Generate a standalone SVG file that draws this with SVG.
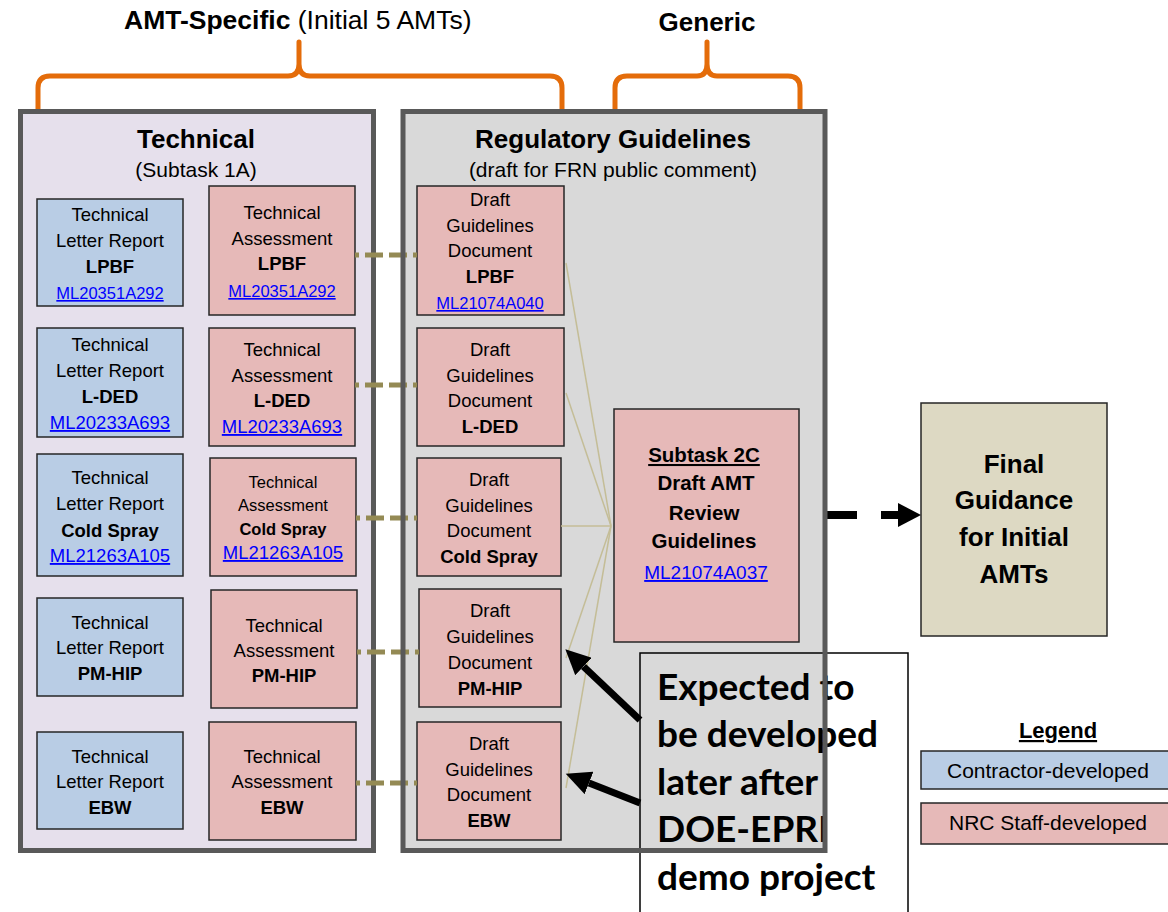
<svg xmlns="http://www.w3.org/2000/svg" width="1168" height="912" viewBox="0 0 1168 912">
<style>
text{font-family:"Liberation Sans",Arial,sans-serif;fill:#000;text-anchor:middle}
.b{font-weight:bold}
.t{font-size:18.5px}
.ts{font-size:16.5px}
.lk{fill:#0000ff;text-decoration:underline}
.title{font-size:26px;font-weight:bold}
.sub{font-size:21px}
.blue{fill:#b9cde5;stroke:#262626;stroke-width:1.5}
.pink{fill:#e6b9b8;stroke:#262626;stroke-width:1.5}
.brace{fill:none;stroke:#e46c0a;stroke-width:5;stroke-linecap:round;stroke-linejoin:round}
.link{stroke:#948a54;stroke-width:5;stroke-dasharray:18 6;stroke-dashoffset:14;fill:none}
.thin{stroke:#c4bd97;stroke-width:1.5;fill:none}
.border{fill:none;stroke:#595959;stroke-width:5}
.call{font-family:Lato,"Open Sans",sans-serif;font-weight:bold;font-size:37px;text-anchor:start}
</style>
<defs>
<marker id="bighead" markerUnits="userSpaceOnUse" markerWidth="24" markerHeight="24" refX="0" refY="12" orient="auto"><path d="M0,0 L23,12 L0,24 Z" fill="#000"/></marker>
<marker id="head" markerUnits="userSpaceOnUse" markerWidth="26" markerHeight="24" refX="0" refY="12" orient="auto"><path d="M0,0 L25,12 L0,24 Z" fill="#000"/></marker>
</defs>
<rect width="1168" height="912" fill="#fff"/>

<g id="header-amt">
<text x="124" y="29" style="font-size:26.5px;text-anchor:start"><tspan font-weight="bold">AMT-Specific</tspan> (Initial 5 AMTs)</text>
<path class="brace" d="M38,109 V88 Q38,76 50,76 H288 Q299,76 299,64 V42 M299,64 Q299,76 310,76 H550 Q562,76 562,88 V109"/>
</g>
<g id="header-generic">
<text x="707" y="31" class="title">Generic</text>
<path class="brace" d="M615,109 V88 Q615,76 627,76 H697 Q707,76 707,64 V42 M707,64 Q707,76 717,76 H788 Q800,76 800,88 V109"/>
</g>

<g id="technical-panel">
<rect x="20.5" y="111.5" width="353" height="739" fill="#e6e0ec" stroke="#595959" stroke-width="5"/>
<text x="196" y="148" class="title">Technical</text>
<text x="196" y="177" class="sub">(Subtask 1A)</text>
</g>

<g id="regulatory-panel">
<rect x="403" y="111.5" width="422" height="739" fill="#d9d9d9"/>
<text x="613" y="148" class="title">Regulatory Guidelines</text>
<text x="613" y="177" class="sub">(draft for FRN public comment)</text>
</g>

<g id="tlr-lpbf">
<rect class="blue" x="37" y="199" width="146" height="107"/>
<text x="110" y="221" class="t">Technical</text>
<text x="110" y="247" class="t">Letter Report</text>
<text x="110" y="273" class="t b">LPBF</text>
<text x="110" y="299" class="ts lk">ML20351A292</text>
</g>
<g id="tlr-lded">
<rect class="blue" x="37" y="328" width="146" height="109"/>
<text x="110" y="351" class="t">Technical</text>
<text x="110" y="377" class="t">Letter Report</text>
<text x="110" y="403" class="t b">L-DED</text>
<text x="110" y="429" class="t lk">ML20233A693</text>
</g>
<g id="tlr-cold">
<rect class="blue" x="37" y="454" width="146" height="122"/>
<text x="110" y="484" class="t">Technical</text>
<text x="110" y="510" class="t">Letter Report</text>
<text x="110" y="537" class="t b">Cold Spray</text>
<text x="110" y="562" class="t lk">ML21263A105</text>
</g>
<g id="tlr-pmhip">
<rect class="blue" x="37" y="598" width="146" height="98"/>
<text x="110" y="629" class="t">Technical</text>
<text x="110" y="654" class="t">Letter Report</text>
<text x="110" y="680" class="t b">PM-HIP</text>
</g>
<g id="tlr-ebw">
<rect class="blue" x="37" y="732" width="146" height="97"/>
<text x="110" y="763" class="t">Technical</text>
<text x="110" y="788" class="t">Letter Report</text>
<text x="110" y="814" class="t b">EBW</text>
</g>

<g id="ta-lpbf">
<rect class="pink" x="209" y="186" width="146" height="129"/>
<text x="282" y="219" class="t">Technical</text>
<text x="282" y="245" class="t">Assessment</text>
<text x="282" y="270" class="t b">LPBF</text>
<text x="282" y="297" class="ts lk">ML20351A292</text>
</g>
<g id="ta-lded">
<rect class="pink" x="209" y="328" width="146" height="118"/>
<text x="282" y="356" class="t">Technical</text>
<text x="282" y="382" class="t">Assessment</text>
<text x="282" y="407" class="t b">L-DED</text>
<text x="282" y="433" class="t lk">ML20233A693</text>
</g>
<g id="ta-cold">
<rect class="pink" x="210" y="458" width="146" height="118"/>
<text x="283" y="488" style="font-size:16.5px">Technical</text>
<text x="283" y="511" style="font-size:16.5px">Assessment</text>
<text x="283" y="535" class="b" style="font-size:16.5px">Cold Spray</text>
<text x="283" y="559" class="t lk">ML21263A105</text>
</g>
<g id="ta-pmhip">
<rect class="pink" x="211" y="590" width="146" height="118"/>
<text x="284" y="632" class="t">Technical</text>
<text x="284" y="657" class="t">Assessment</text>
<text x="284" y="682" class="t b">PM-HIP</text>
</g>
<g id="ta-ebw">
<rect class="pink" x="209" y="722" width="147" height="118"/>
<text x="282" y="763" class="t">Technical</text>
<text x="282" y="788" class="t">Assessment</text>
<text x="282" y="814" class="t b">EBW</text>
</g>

<g id="dg-lpbf">
<rect class="pink" x="417" y="186" width="147" height="129"/>
<text x="490" y="206" class="t">Draft</text>
<text x="490" y="232" class="t">Guidelines</text>
<text x="490" y="257" class="t">Document</text>
<text x="490" y="283" class="t b">LPBF</text>
<text x="490" y="309" class="ts lk">ML21074A040</text>
</g>
<g id="dg-lded">
<rect class="pink" x="417" y="328" width="147" height="118"/>
<text x="490" y="356" class="t">Draft</text>
<text x="490" y="382" class="t">Guidelines</text>
<text x="490" y="407" class="t">Document</text>
<text x="490" y="433" class="t b">L-DED</text>
</g>
<g id="dg-cold">
<rect class="pink" x="417" y="458" width="144" height="118"/>
<text x="489" y="486" class="t">Draft</text>
<text x="489" y="512" class="t">Guidelines</text>
<text x="489" y="537" class="t">Document</text>
<text x="489" y="563" class="t b">Cold Spray</text>
</g>
<g id="dg-pmhip">
<rect class="pink" x="419" y="589" width="142" height="118"/>
<text x="490" y="617" class="t">Draft</text>
<text x="490" y="643" class="t">Guidelines</text>
<text x="490" y="669" class="t">Document</text>
<text x="490" y="695" class="t b">PM-HIP</text>
</g>
<g id="dg-ebw">
<rect class="pink" x="417" y="722" width="144" height="118"/>
<text x="489" y="750" class="t">Draft</text>
<text x="489" y="776" class="t">Guidelines</text>
<text x="489" y="801" class="t">Document</text>
<text x="489" y="827" class="t b">EBW</text>
</g>

<g id="subtask-2c">
<rect class="pink" x="614" y="409" width="185" height="233"/>
<text x="704" y="462" class="b" style="font-size:20.5px;text-decoration:underline">Subtask 2C</text>
<text x="706" y="490" class="b" style="font-size:20.5px">Draft AMT</text>
<text x="704" y="520" class="b" style="font-size:20.5px">Review</text>
<text x="704" y="548" class="b" style="font-size:20.5px">Guidelines</text>
<text x="706" y="579" class="lk" style="font-size:19px">ML21074A037</text>
</g>

<g id="final-guidance">
<rect x="921" y="403" width="186" height="233" fill="#ddd9c3" stroke="#262626" stroke-width="1.5"/>
<text x="1014" y="473" class="title">Final</text>
<text x="1014" y="509" class="title">Guidance</text>
<text x="1014" y="546" class="title">for Initial</text>
<text x="1014" y="583" class="title">AMTs</text>
</g>

<g id="legend">
<text x="1058" y="738" class="b" style="font-size:22px;text-decoration:underline">Legend</text>
<rect class="blue" x="921" y="751" width="260" height="38"/>
<text x="1048" y="778" style="font-size:21px">Contractor-developed</text>
<rect class="pink" x="921" y="803" width="260" height="41"/>
<text x="1048" y="830" style="font-size:21px">NRC Staff-developed</text>
</g>

<g id="connectors">
<line class="link" x1="355" y1="255" x2="417" y2="255"/>
<line class="link" x1="355" y1="385" x2="417" y2="385"/>
<line class="link" x1="356" y1="518" x2="417" y2="518"/>
<line class="link" x1="357" y1="652" x2="419" y2="652"/>
<line class="link" x1="356" y1="783" x2="417" y2="783"/>
<line class="thin" x1="566" y1="263" x2="611" y2="526"/>
<line class="thin" x1="566" y1="393" x2="611" y2="526"/>
<line class="thin" x1="561" y1="526" x2="611" y2="526"/>
<line class="thin" x1="566" y1="658" x2="611" y2="526"/>
<line class="thin" x1="566" y1="788" x2="611" y2="526"/>
<line x1="825" y1="515" x2="898" y2="515" stroke="#000" stroke-width="8" stroke-dasharray="32 24" marker-end="url(#bighead)"/>
<line x1="640" y1="720" x2="583.5" y2="666.5" stroke="#000" stroke-width="7" marker-end="url(#head)"/>
<line x1="640" y1="803" x2="589" y2="783" stroke="#000" stroke-width="7" marker-end="url(#head)"/>
</g>

<g id="callout">
<rect x="640" y="653" width="268" height="270" fill="none" stroke="#000" stroke-width="1.5"/>
<text x="657" y="700" class="call">Expected to</text>
<text x="657" y="747" class="call">be developed</text>
<text x="657" y="795" class="call">later after</text>
<text x="657" y="842" class="call">DOE-EPRI</text>
<text x="657" y="890" class="call">demo project</text>
</g>

<rect id="regulatory-panel-border" class="border" x="403" y="111.5" width="422" height="739"/>
</svg>
